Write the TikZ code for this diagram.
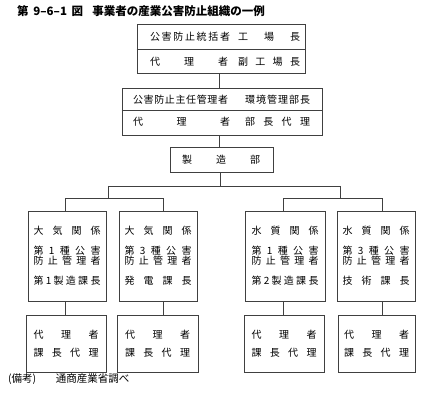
\documentclass[tikz,border=0pt]{standalone}
\usepackage{fontspec}
\setmainfont{Noto Sans CJK JP}
\usetikzlibrary{fit}
\newcommand\spr[2]{\makebox[#1pt]{#2}}
\begin{document}
\begin{tikzpicture}[x=1pt,y=-1pt,
  frame/.style={draw=black!75, line width=0.6pt, inner sep=0pt, rectangle},
  conn/.style={draw=black!75, line width=0.6pt},
  txt/.style={inner sep=0pt, font=\fontsize{10}{12}\selectfont, text=black},
  ttl/.style={inner sep=0pt, font=\fontsize{11.5}{13}\selectfont\bfseries, text=black},
  note/.style={inner sep=0pt, font=\fontsize{10.5}{12}\selectfont, text=black}]
\useasboundingbox (0,0) rectangle (430,403);

% title
\node[ttl, anchor=west] (t0) at (17,11) {\spr{66}{第\hfill 9–6–1\hfill 図}};
\node[ttl, anchor=west] (t1) at (92,11) {\spr{173}{事業者の産業公害防止組織の一例}};

% box 1
\node[frame, fit={(137,24) (305,73)}] (b1) {};
\coordinate (d1) at (0,49);
\draw[conn] (b1.west |- d1) -- (b1.east |- d1);
\node[txt] (b1a) at (190,37) {\spr{80}{公\hfill 害\hfill 防\hfill 止\hfill 統\hfill 括\hfill 者}};
\node[txt] (b1b) at (269,37) {\spr{62}{工\hfill 場\hfill 長}};
\node[txt] (b1c) at (189,62) {\spr{78}{代\hfill 理\hfill 者}};
\node[txt] (b1d) at (269,62) {\spr{62}{副\hfill 工\hfill 場\hfill 長}};

% box 2
\node[frame, fit={(122,88) (322,135)}] (b2) {};
\coordinate (d2) at (0,110);
\draw[conn] (b2.west |- d2) -- (b2.east |- d2);
\node[txt] (b2a) at (180.5,100) {\spr{95}{公\hfill 害\hfill 防\hfill 止\hfill 主\hfill 任\hfill 管\hfill 理\hfill 者}};
\node[txt] (b2b) at (277.5,100) {\spr{65}{環\hfill 境\hfill 管\hfill 理\hfill 部\hfill 長}};
\node[txt] (b2c) at (181.5,122) {\spr{97}{代\hfill 理\hfill 者}};
\node[txt] (b2d) at (277.5,122) {\spr{65}{部\hfill 長\hfill 代\hfill 理}};

% box 3
\node[frame, fit={(170,147) (273,172)}] (b3) {};
\node[txt] (b3a) at (221,160) {\spr{78}{製\hfill 造\hfill 部}};

\coordinate (c12) at (219,0);
\draw[conn] (b1.south -| c12) -- (b2.north -| c12);
\draw[conn] (b2.south -| c12) -- (b3.north -| c12);

% upper boxes
\node[frame, fit={(28,211) (106,301)}] (A) {};
\node[frame, fit={(119,211) (197,301)}] (B) {};
\node[frame, fit={(245,211) (325,301)}] (C) {};
\node[frame, fit={(337,211) (415,301)}] (D) {};

% tree connectors
\coordinate (jm) at (220,186);
\coordinate (jL) at (108,186);
\coordinate (jR) at (340,186);
\coordinate (jL2) at (108,198);
\coordinate (jR2) at (340,198);
\coordinate (hA) at (65,198);
\coordinate (hB) at (163,198);
\coordinate (hC) at (283,198);
\coordinate (hD) at (382,198);
\draw[conn] (b3.south -| jm) -- (jm);
\draw[conn] (jL) -- (jR);
\draw[conn] (jL) -- (jL2);
\draw[conn] (jR) -- (jR2);
\draw[conn] (hA) -- (hB);
\draw[conn] (hC) -- (hD);
\draw[conn] (hA) -- (A.north -| hA);
\draw[conn] (hB) -- (B.north -| hB);
\draw[conn] (hC) -- (C.north -| hC);
\draw[conn] (hD) -- (D.north -| hD);

% upper box texts
\node[txt] (Aa) at (67,231) {\spr{67}{大\hfill 気\hfill 関\hfill 係}};
\node[txt] (Ab) at (67,251) {\spr{67}{第\hfill 1\hfill 種\hfill 公\hfill 害}};
\node[txt] (Ac) at (67,261) {\spr{67}{防\hfill 止\hfill 管\hfill 理\hfill 者}};
\node[txt] (Ad) at (67,281) {\spr{67}{第\hfill 1\hfill 製\hfill 造\hfill 課\hfill 長}};

\node[txt] (Ba) at (158,231) {\spr{67}{大\hfill 気\hfill 関\hfill 係}};
\node[txt] (Bb) at (158,251) {\spr{67}{第\hfill 3\hfill 種\hfill 公\hfill 害}};
\node[txt] (Bc) at (158,261) {\spr{67}{防\hfill 止\hfill 管\hfill 理\hfill 者}};
\node[txt] (Bd) at (158,281) {\spr{67}{発\hfill 電\hfill 課\hfill 長}};

\node[txt] (Ca) at (285,231) {\spr{67}{水\hfill 質\hfill 関\hfill 係}};
\node[txt] (Cb) at (285,251) {\spr{67}{第\hfill 1\hfill 種\hfill 公\hfill 害}};
\node[txt] (Cc) at (285,261) {\spr{67}{防\hfill 止\hfill 管\hfill 理\hfill 者}};
\node[txt] (Cd) at (285,281) {\spr{67}{第\hfill 2\hfill 製\hfill 造\hfill 課\hfill 長}};

\node[txt] (Da) at (376,231) {\spr{67}{水\hfill 質\hfill 関\hfill 係}};
\node[txt] (Db) at (376,251) {\spr{67}{第\hfill 3\hfill 種\hfill 公\hfill 害}};
\node[txt] (Dc) at (376,261) {\spr{67}{防\hfill 止\hfill 管\hfill 理\hfill 者}};
\node[txt] (Dd) at (376,281) {\spr{67}{技\hfill 術\hfill 課\hfill 長}};

% lower boxes
\node[frame, fit={(26,315) (106,372)}] (A2) {};
\node[frame, fit={(117,315) (198,372)}] (B2) {};
\node[frame, fit={(244,315) (324,372)}] (C2) {};
\node[frame, fit={(338,315) (415,372)}] (D2) {};
\draw[conn] (A.south -| hA) -- (A2.north -| hA);
\draw[conn] (B.south -| hB) -- (B2.north -| hB);
\draw[conn] (C.south -| hC) -- (C2.north -| hC);
\draw[conn] (D.south -| hD) -- (D2.north -| hD);

\foreach \n/\x in {A2/66,B2/157.5,C2/284,D2/376.5}{
  \node[txt] (\n a) at (\x,335) {\spr{65}{代\hfill 理\hfill 者}};
  \node[txt] (\n b) at (\x,353) {\spr{65}{課\hfill 長\hfill 代\hfill 理}};
}

% note
\node[note, anchor=west] (n1) at (8,379) {(備考)};
\node[note, anchor=west] (n2) at (53,379) {\spr{79}{通商産業省調べ}};
\end{tikzpicture}
\end{document}
